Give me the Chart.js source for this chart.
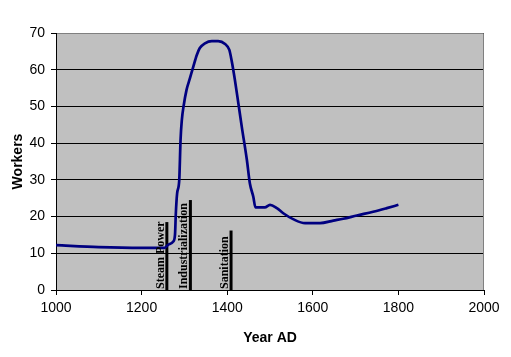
<!DOCTYPE html>
<html>
<head>
<meta charset="utf-8">
<script src="https://cdn.jsdelivr.net/npm/chart.js@4"></script>
<style>
html,body{margin:0;padding:0;background:#fff;}
canvas{display:block;}
</style>
</head>
<body>
<canvas id="c" width="511" height="357"></canvas>
<script>
const years = [1000, 1100, 1200, 1254, 1262, 1274, 1278, 1280, 1283, 1288, 1291, 1294, 1298, 1305, 1313, 1321, 1329, 1336, 1348, 1364, 1379, 1395, 1405, 1410, 1418, 1426, 1434, 1446, 1453, 1461, 1466, 1488, 1500, 1516, 1531, 1554, 1582, 1617, 1648, 1671, 1703, 1741, 1773, 1800];
const workers = [12.2, 11.7, 11.5, 11.5, 12.3, 13.2, 15, 20.9, 26.3, 30, 40.9, 46.3, 50, 54.5, 57.7, 60.9, 64, 65.9, 67.2, 67.8, 67.8, 67, 65.4, 62.7, 57.2, 50.9, 44.5, 35.4, 29, 25.4, 22.5, 22.5, 23.2, 22.3, 20.9, 19.3, 18.2, 18.2, 18.9, 19.4, 20.3, 21.3, 22.3, 23.2];
const eventNames = ['Steam Power', 'Industrialization', 'Sanitation'];
const eventYears = [1259, 1314, 1409];
const eventHeights = [18.5, 24.5, 16.2];
const xTicks = [1000, 1200, 1400, 1600, 1800, 2000];
const yTicks = [0, 10, 20, 30, 40, 50, 60, 70];

const datasets = [{
  data: years.map((y, i) => ({x: y, y: workers[i]})),
  borderColor: '#000080',
  borderWidth: 2.7,
  pointRadius: 0,
  showLine: true,
  cubicInterpolationMode: 'monotone',
  fill: false
}];
eventYears.forEach((yr, i) => {
  datasets.push({
    data: [{x: yr, y: 0}, {x: yr, y: eventHeights[i]}],
    borderColor: '#000000',
    borderWidth: 3,
    borderCapStyle: 'butt',
    pointRadius: 0,
    showLine: true,
    fill: false
  });
});

const bgPlugin = {
  id: 'bg',
  beforeDraw(chart) {
    const {ctx, chartArea: a} = chart;
    ctx.save();
    ctx.fillStyle = '#C0C0C0';
    ctx.fillRect(a.left, a.top, a.right - a.left, a.bottom - a.top);
    ctx.restore();
  },
  afterDatasetsDraw(chart) {
    const {ctx, chartArea: a, scales} = chart;
    ctx.save();
    ctx.strokeStyle = '#808080';
    ctx.lineWidth = 1;
    ctx.beginPath();
    ctx.moveTo(a.left + 1, a.top + 0.5);
    ctx.lineTo(a.right - 0.5, a.top + 0.5);
    ctx.lineTo(a.right - 0.5, a.bottom);
    ctx.stroke();
    ctx.fillStyle = '#000';
    ctx.font = 'bold 12px "Liberation Serif", "Times New Roman", serif';
    ctx.textAlign = 'left';
    ctx.textBaseline = 'alphabetic';
    eventNames.forEach((name, i) => {
      const px = scales.x.getPixelForValue(eventYears[i]);
      const py = scales.y.getPixelForValue(0);
      ctx.save();
      ctx.translate(px - 3, py - 1);
      ctx.rotate(-Math.PI / 2);
      ctx.fillText(name, 0, 0);
      ctx.restore();
    });
    ctx.restore();
  }
};

new Chart(document.getElementById('c'), {
  type: 'scatter',
  data: {datasets},
  plugins: [bgPlugin],
  options: {
    responsive: false,
    animation: false,
    layout: {padding: {left: 0, top: 33, right: 27, bottom: 0}},
    plugins: {legend: {display: false}, tooltip: {enabled: false}},
    scales: {
      x: {
        type: 'linear', min: 1000, max: 2000,
        afterBuildTicks: s => { s.ticks = xTicks.map(v => ({value: v})); },
        afterFit: s => { s.height = 67; },
        grid: {drawOnChartArea: false, drawTicks: true, tickLength: 5, color: '#000'},
        border: {color: '#000', width: 1},
        ticks: {color: '#000', font: {family: 'Arial, "Liberation Sans", sans-serif', size: 14}, padding: 5, maxRotation: 0, callback: v => String(v)},
        title: {display: true, text: 'Year AD', color: '#000', font: {family: 'Arial, "Liberation Sans", sans-serif', size: 14, weight: 'bold'}, padding: {top: 0, bottom: 10}}
      },
      y: {
        type: 'linear', min: 0, max: 70,
        afterBuildTicks: s => { s.ticks = yTicks.map(v => ({value: v})); },
        afterFit: s => { s.width = 56; },
        grid: {drawOnChartArea: true, drawTicks: true, tickLength: 5, color: '#000'},
        border: {color: '#000', width: 1},
        ticks: {color: '#000', font: {family: 'Arial, "Liberation Sans", sans-serif', size: 14}, padding: 6, callback: v => String(v)},
        title: {display: true, text: 'Workers', color: '#000', font: {family: 'Arial, "Liberation Sans", sans-serif', size: 14, weight: 'bold'}, padding: {top: 10, bottom: 0}}
      }
    }
  }
});
</script>
</body>
</html>
